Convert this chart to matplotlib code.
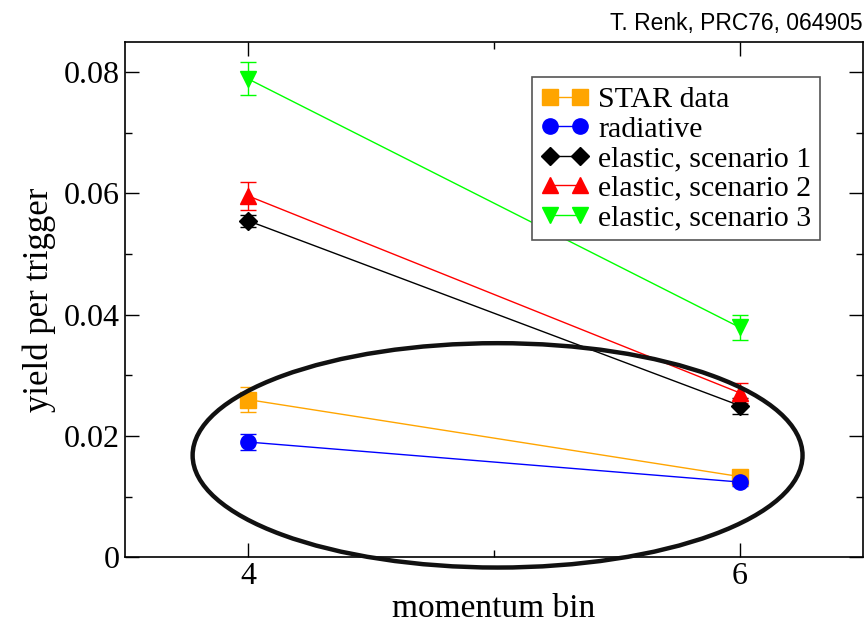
import matplotlib
matplotlib.use("Agg")
import matplotlib.pyplot as plt
from matplotlib.patches import Ellipse
from matplotlib.ticker import MultipleLocator

plt.rcParams['font.family'] = ['Liberation Serif', 'DejaVu Serif']

# momentum bins
x = [4, 6]

# yields and errors
star = [0.0260, 0.0133]
star_err = [0.0021, 0.0008]
rad = [0.0190, 0.0124]
rad_err = [0.0013, 0.0007]
el1 = [0.0555, 0.0250]
el1_err = [0.0010, 0.0013]
el2 = [0.0596, 0.0271]
el2_err = [0.0023, 0.0017]
el3 = [0.0789, 0.0379]
el3_err = [0.0027, 0.0020]

labels = ["STAR data", "radiative", "elastic, scenario 1",
          "elastic, scenario 2", "elastic, scenario 3"]

fig = plt.figure(figsize=(8.68, 6.24), dpi=100)
ax = fig.add_axes([0.144, 0.107, 0.850, 0.826])

series = [
    (star, star_err, "#FFA500", "s", 12),
    (rad, rad_err, "#0000FF", "o", 11),
    (el1, el1_err, "#000000", "D", 9),
    (el2, el2_err, "#FF0000", "^", 12),
    (el3, el3_err, "#00FF00", "v", 12),
]
handles = []
for (y, e, c, m, ms), lab in zip(series, labels):
    cont = ax.errorbar(x, y, yerr=e, color=c, marker=m, markersize=ms, lw=1.0,
                       elinewidth=1.0, capsize=6, capthick=1.0, label=lab)
    handles.append(cont[0])

ell = Ellipse((5.015, 0.0168), 2.48, 0.037, fill=False, lw=3.2,
              edgecolor="#111111", clip_on=False, zorder=5)
ax.add_patch(ell)

ax.set_xlim(3.5, 6.5)
ax.set_ylim(0, 0.085)
ax.set_xticks([4, 6])
ax.xaxis.set_minor_locator(MultipleLocator(1))
ax.set_yticks([0, 0.02, 0.04, 0.06, 0.08])
ax.set_yticklabels(["0", "0.02", "0.04", "0.06", "0.08"])
ax.yaxis.set_minor_locator(MultipleLocator(0.01))
ax.tick_params(which="both", direction="in", top=True, right=True,
               width=1.0, labelsize=23)
ax.tick_params(which="major", length=10)
ax.tick_params(which="minor", length=5)
for s in ax.spines.values():
    s.set_linewidth(1.2)

ax.set_xlabel("momentum bin", fontsize=24, labelpad=2)
ax.set_ylabel("yield per trigger", fontsize=25, labelpad=6)

leg = ax.legend(handles, labels, loc="upper right",
                bbox_to_anchor=(0.9625, 0.9605),
                fontsize=21.5, numpoints=2, handlelength=1.6,
                handletextpad=0.3, labelspacing=0.09, borderpad=0.3,
                fancybox=False, framealpha=1)
leg.get_frame().set_edgecolor("#555555")
leg.get_frame().set_linewidth(1.2)

fig.text(0.994, 0.952, "T. Renk, PRC76, 064905", ha="right", va="baseline",
         fontsize=16.5, family="Liberation Sans")

fig.savefig("out.png", dpi=100)
